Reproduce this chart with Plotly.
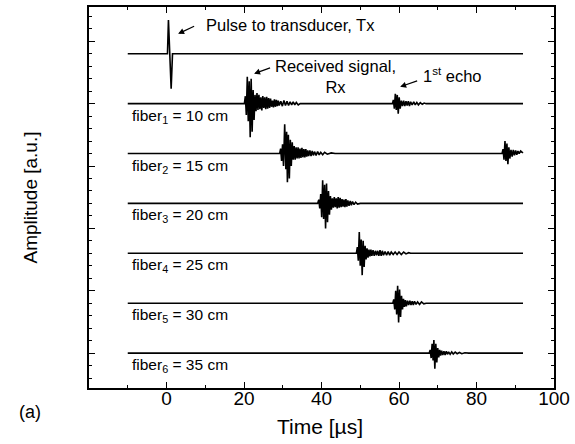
import plotly.graph_objects as go

# ---------------- data ----------------
# Time axis ticks
X_TICKS = [0, 20, 40, 60, 80, 100]

# vertical offsets of each trace (a.u.)
OFFSETS = [4.8, 4.0, 3.2, 2.4, 1.6, 0.8, 0.0]

# Pulse to transducer (Tx)
TX_T = [-10, 0.25, 0.5, 0.8, 1.2, 1.55, 92]
TX_A = [0, 0, 0.54, 0.01, -0.56, 0, 0]

# fiber 1 = 10 cm (received signal + 1st echo)
F1_T = [-10, 20.1, 20.35, 20.6, 20.85, 21.1, 21.35, 21.6, 21.85, 22.1, 22.35, 22.6, 22.85, 23.1,
        23.35, 23.6, 23.85, 24.1, 24.35, 24.6, 24.85, 25.1, 25.35, 25.6, 25.85, 26.1, 26.35,
        26.6, 26.85, 27.1, 27.35, 27.6, 27.85, 28.1, 28.35, 28.6, 28.85, 29.1, 29.5, 29.9,
        30.3, 30.7, 31.1, 31.5, 31.9, 32.3, 32.7, 33.1, 33.5, 34.0, 34.5,
        58.3, 58.55, 58.8, 59.05, 59.3, 59.55, 59.8, 60.05, 60.3, 60.6, 60.9, 61.2, 61.5,
        61.8, 62.1, 62.4, 62.7, 63.0, 63.4, 63.8, 64.2, 64.6, 65.0, 65.5, 66.0, 66.5, 67.0, 92]
F1_A = [0, 0, 0.12, -0.18, 0.43, -0.28, 0.36, -0.54, 0.40, -0.45, 0.22, -0.26, 0.14, -0.12,
        0.17, -0.10, 0.14, -0.09, 0.10, -0.11, 0.12, -0.07, 0.10, -0.09, 0.11, -0.08, 0.09,
        -0.07, 0.08, -0.05, 0.05, -0.06, 0.07, -0.05, 0.06, -0.04, 0.05, -0.03, 0.04, -0.04,
        0.05, -0.03, 0.04, -0.03, 0.03, -0.02, 0.03, -0.02, 0.02, -0.02, 0,
        0, 0.06, -0.08, 0.16, -0.10, 0.14, -0.16, 0.10, -0.08, 0.05, -0.04, 0.05, -0.04,
        0.04, -0.03, 0.04, -0.04, 0.03, -0.02, 0.03, -0.02, 0.02, -0.02, 0.015, -0.01, 0.01, 0, 0]

# fiber 2 = 15 cm
F2_T = [-10, 29.2, 29.45, 29.7, 29.95, 30.2, 30.5, 30.8, 31.0, 31.2, 31.45, 31.7, 31.95, 32.2,
        32.45, 32.7, 32.95, 33.2, 33.45, 33.7, 33.95, 34.2, 34.45, 34.7, 34.95, 35.2, 35.45,
        35.7, 35.95, 36.2, 36.45, 36.7, 37.0, 37.3, 37.6, 37.9, 38.2, 38.6, 39.0, 39.4, 39.8,
        40.3, 40.8, 41.5, 42.5, 43.5,
        86.6, 86.85, 87.1, 87.35, 87.6, 87.85, 88.1, 88.35, 88.6, 88.9, 89.2, 89.5, 89.8,
        90.1, 90.4, 90.7, 91.0, 91.4, 91.8, 92]
F2_A = [0, 0, 0.08, -0.12, 0.15, -0.20, 0.47, -0.25, 0.35, -0.46, 0.30, -0.40, 0.22, -0.20,
        0.18, -0.10, 0.12, -0.10, 0.10, -0.08, 0.10, -0.08, 0.08, -0.07, 0.09, -0.06, 0.07,
        -0.06, 0.07, -0.05, 0.05, -0.04, 0.05, -0.04, 0.04, -0.03, 0.03, -0.03, 0.03, -0.02, 0.02,
        -0.02, 0.02, -0.01, 0.01, 0,
        0, 0.07, -0.10, 0.20, -0.12, 0.16, -0.17, 0.10, -0.08, 0.06, -0.05, 0.06, -0.03,
        0.05, -0.02, 0.04, 0.0, 0.04, 0.02, 0.01]

# fiber 3 = 20 cm
F3_T = [-10, 39.0, 39.3, 39.55, 39.8, 40.05, 40.3, 40.55, 40.8, 41.05, 41.3, 41.55, 41.8, 42.05,
        42.3, 42.55, 42.8, 43.05, 43.3, 43.55, 43.8, 44.05, 44.3, 44.55, 44.8, 45.05, 45.3,
        45.55, 45.8, 46.05, 46.3, 46.55, 46.8, 47.1, 47.4, 47.7, 48.0, 48.4, 48.8, 49.3, 50.0, 92]
F3_A = [0, 0, 0.06, -0.08, 0.15, -0.22, 0.37, -0.25, 0.30, -0.40, 0.32, -0.30, 0.20, -0.18,
        0.12, -0.10, 0.08, -0.07, 0.10, -0.06, 0.08, -0.08, 0.10, -0.07, 0.09, -0.06, 0.07,
        -0.05, 0.06, -0.06, 0.07, -0.05, 0.05, -0.04, 0.04, -0.03, 0.03, -0.02, 0.02, -0.01, 0, 0]

# fiber 4 = 25 cm
F4_T = [-10, 49.0, 49.25, 49.5, 49.75, 50.0, 50.25, 50.5, 50.75, 51.0, 51.25, 51.5, 51.75, 52.0,
        52.25, 52.5, 52.75, 53.0, 53.3, 53.6, 53.9, 54.2, 54.5, 54.8, 55.1, 55.4, 55.7, 56.0,
        56.4, 56.8, 57.2, 57.6, 58.0, 58.5, 59.0, 59.5, 60.0, 60.6, 61.2, 61.8, 62.5, 63.0, 92]
F4_A = [0, 0, 0.10, -0.12, 0.34, -0.20, 0.22, -0.35, 0.20, -0.22, 0.12, -0.10, 0.08, -0.07,
        0.06, -0.05, 0.06, -0.04, 0.05, -0.04, 0.04, -0.03, 0.04, -0.04, 0.05, -0.04, 0.04, -0.03,
        0.03, -0.03, 0.03, -0.03, 0.02, -0.02, 0.02, -0.02, 0.02, -0.02, 0.02, -0.01, 0.01, 0, 0]

# fiber 5 = 30 cm
F5_T = [-10, 58.4, 58.65, 58.9, 59.15, 59.4, 59.65, 59.9, 60.15, 60.4, 60.65, 60.9, 61.15, 61.4,
        61.65, 61.9, 62.2, 62.5, 62.8, 63.1, 63.4, 63.7, 64.0, 64.4, 64.8, 65.3, 65.8, 66.4, 67.0, 92]
F5_A = [0, 0, 0.06, -0.10, 0.20, -0.18, 0.28, -0.31, 0.22, -0.22, 0.12, -0.10, 0.07, -0.06,
        0.05, -0.05, 0.04, -0.03, 0.04, -0.03, 0.03, -0.03, 0.03, -0.02, 0.02, -0.02, 0.02, -0.01, 0, 0]

# fiber 6 = 35 cm
F6_T = [-10, 67.8, 68.05, 68.3, 68.55, 68.8, 69.0, 69.25, 69.5, 69.75, 70.0, 70.25, 70.5, 70.75,
        71.0, 71.3, 71.6, 71.9, 72.2, 72.5, 72.8, 73.2, 73.6, 74.0, 74.5, 75.0, 75.6, 76.2, 77.0, 78.0, 92]
F6_A = [0, 0, 0.05, -0.08, 0.15, -0.12, 0.21, -0.25, 0.15, -0.15, 0.08, -0.07, 0.05, -0.04,
        0.04, -0.03, 0.03, -0.03, 0.03, -0.02, 0.02, -0.02, 0.02, -0.015, 0.015, -0.01, 0.01, -0.01, 0.005, 0, 0]

TRACES_T = [TX_T, F1_T, F2_T, F3_T, F4_T, F5_T, F6_T]
TRACES_A = [TX_A, F1_A, F2_A, F3_A, F4_A, F5_A, F6_A]

FIBER_LABELS = ["fiber<sub>1</sub> = 10 cm", "fiber<sub>2</sub> = 15 cm", "fiber<sub>3</sub> = 20 cm",
                "fiber<sub>4</sub> = 25 cm", "fiber<sub>5</sub> = 30 cm", "fiber<sub>6</sub> = 35 cm"]
LABEL_X = -9.3
LABEL_DY = -0.2

FONT = "Liberation Sans, Arial, sans-serif"

fig = go.Figure()
for t, a, off in zip(TRACES_T, TRACES_A, OFFSETS):
    fig.add_trace(go.Scatter(x=t, y=[v + off for v in a], mode="lines",
                             line=dict(color="black", width=1.6), showlegend=False,
                             hoverinfo="skip"))

ann = []
for lab, off in zip(FIBER_LABELS, OFFSETS[1:]):
    ann.append(dict(x=LABEL_X, y=off + LABEL_DY, xref="x", yref="y", text=lab, showarrow=False,
                    xanchor="left", yanchor="middle", font=dict(size=15.5, color="black")))

# text annotations
ann.append(dict(x=9.7, y=5.26, xref="x", yref="y", text="Pulse to transducer, Tx", showarrow=False,
                xanchor="left", yanchor="middle", font=dict(size=16.5, color="black")))
ann.append(dict(x=43.6, y=4.43, xref="x", yref="y", text="Received signal,<br>Rx", showarrow=False,
                xanchor="center", yanchor="middle", align="center", font=dict(size=16.5, color="black")))
ann.append(dict(x=65.8, y=4.46, xref="x", yref="y", text="1<sup>st</sup> echo", showarrow=False,
                xanchor="left", yanchor="middle", font=dict(size=16.5, color="black")))
# arrows
for hx, hy, ax, ay in [(3.0, 5.12, 19, -9), (22.6, 4.48, 19, -7), (60.3, 4.27, 20, -7)]:
    ann.append(dict(x=hx, y=hy, xref="x", yref="y", text=" ", showarrow=True, arrowhead=2,
                    arrowsize=1, arrowwidth=1.2, arrowcolor="black", ax=ax, ay=ay,
                    axref="pixel", ayref="pixel", standoff=0, startstandoff=0))

# axis titles / panel label
ann.append(dict(x=0.497, y=-0.102, xref="paper", yref="paper", text="Time [µs]", showarrow=False,
                xanchor="center", yanchor="middle", font=dict(size=21, color="black")))
ann.append(dict(x=-0.126, y=0.501, xref="paper", yref="paper", text="Amplitude [a.u.]", showarrow=False,
                xanchor="center", yanchor="middle", textangle=-90, font=dict(size=19, color="black")))
ann.append(dict(x=-0.126, y=-0.063, xref="paper", yref="paper", text="(a)", showarrow=False,
                xanchor="center", yanchor="middle", font=dict(size=18, color="black")))

fig.update_layout(
    width=575, height=444,
    margin=dict(l=89, r=17, t=5, b=56),
    paper_bgcolor="white", plot_bgcolor="white",
    font=dict(family=FONT, color="black"),
    annotations=ann,
    xaxis=dict(range=[-20, 100], tickmode="array", tickvals=X_TICKS,
               ticks="inside", ticklen=6, tickwidth=1.2, tickcolor="black",
               ticklabelstandoff=-8,
               showline=True, linecolor="black", linewidth=1.6, mirror="allticks",
               showgrid=False, zeroline=False, tickfont=dict(size=19, color="black"),
               minor=dict(tickmode="linear", tick0=0, dtick=10, ticks="inside", ticklen=3,
                          tickcolor="black", tickwidth=1.2, showgrid=False)),
    yaxis=dict(range=[-0.56, 5.55], tickmode="linear", tick0=0, dtick=1,
               ticks="inside", ticklen=6, tickwidth=1.2, tickcolor="black",
               showticklabels=False,
               showline=True, linecolor="black", linewidth=1.6, mirror="allticks",
               showgrid=False, zeroline=False,
               minor=dict(tickmode="linear", tick0=0, dtick=0.2, ticks="inside", ticklen=3,
                          tickcolor="black", tickwidth=1.2, showgrid=False)),
)

fig.write_html("out.html", config={"displayModeBar": False},
               post_script="document.body.style.margin='0';document.body.style.overflow='hidden';")
